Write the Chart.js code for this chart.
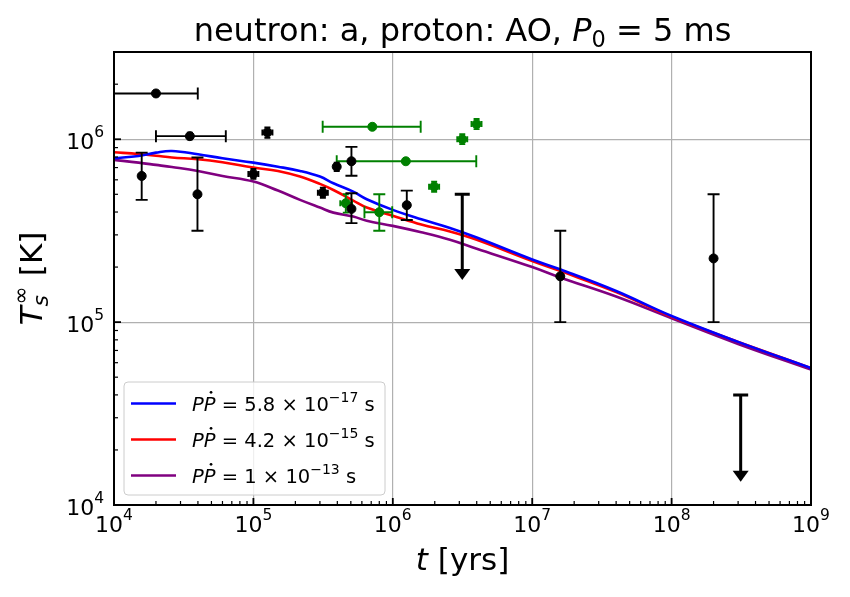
<!DOCTYPE html>
<html>
<head>
<meta charset="utf-8">
<script src="https://cdn.jsdelivr.net/npm/chart.js@4.4.1/dist/chart.umd.min.js"></script>
<style>
    html, body { margin: 0; padding: 0; background: #fff; }
    #wrap { width: 850px; height: 597px; }
</style>
</head>
<body>
<div id="wrap"><canvas id="c" width="850" height="597"></canvas></div>
<script>
// cooling curves, t [yrs] vs T_s [K]
var ageGrid = [1e4, 1.5e4, 2e4, 2.6e4, 4e4, 6e4, 1e5, 1.5e5, 2.16e5, 3e5, 3.75e5, 5.2e5, 6.5e5, 1e6, 1.6e6, 2.57e6, 4e6, 1e7, 1.6e7, 4e7, 1e8, 3e8, 1e9];
var tempBlue = [7.87e5, 8.1e5, 8.45e5, 8.63e5, 8.28e5, 7.87e5, 7.45e5, 7.08e5, 6.71e5, 6.25e5, 5.75e5, 5.17e5, 4.7e5, 4.11e5, 3.65e5, 3.27e5, 2.9e5, 2.2e5, 1.94e5, 1.48e5, 1.08e5, 7.8e4, 5.6e4];
var tempRed = [8.49e5, 8.3e5, 8.13e5, 7.95e5, 7.77e5, 7.48e5, 7.0e5, 6.71e5, 6.25e5, 5.7e5, 5.28e5, 4.62e5, 4.23e5, 3.82e5, 3.42e5, 3.13e5, 2.82e5, 2.16e5, 1.9e5, 1.46e5, 1.07e5, 7.8e4, 5.6e4];
var tempPurple = [7.71e5, 7.45e5, 7.24e5, 7.05e5, 6.71e5, 6.3e5, 5.87e5, 5.24e5, 4.66e5, 4.23e5, 3.97e5, 3.78e5, 3.58e5, 3.36e5, 3.1e5, 2.82e5, 2.52e5, 2.0e5, 1.75e5, 1.38e5, 1.05e5, 7.6e4, 5.5e4];
var curveLabels = ['5.8', '4.2', '1'];
var curveExps = ['\u221217', '\u221215', '\u221213'];

// black observations (null = no error bar)
var obsAge = [2.0e4, 3.5e4, 1.26e5, 1.58e4, 3.97e4, 1.0e5, 3.15e5, 3.96e5, 5.05e5, 5.05e5, 1.26e6, 1.59e7, 2.0e8];
var obsTemp = [1.78e6, 1.04e6, 1.09e6, 6.3e5, 5.0e5, 6.46e5, 5.1e5, 7.08e5, 7.58e5, 4.16e5, 4.36e5, 1.78e5, 2.23e5];
var obsAgeLo = [1e3, 2.0e4, 1.16e5, null, null, 0.92e5, 2.9e5, null, null, null, null, null, null];
var obsAgeHi = [3.99e4, 6.34e4, 1.37e5, null, null, 1.086e5, 3.42e5, null, null, null, null, null, null];
var obsTempLo = [1.78e6, 1.0e6, 1.02e6, 4.66e5, 3.16e5, 6.07e5, 4.79e5, 6.7e5, 6.32e5, 3.48e5, 3.62e5, 1.0e5, 1.0e5];
var obsTempHi = [1.78e6, 1.087e6, 1.16e6, 8.45e5, 7.94e5, 6.88e5, 5.43e5, 7.45e5, 9.08e5, 5.07e5, 5.24e5, 3.16e5, 5.0e5];

// green observations
var grAge = [7.13e5, 1.24e6, 4.6e5, 8.0e5, 1.98e6, 3.15e6, 3.99e6];
var grTemp = [1.17e6, 7.58e5, 4.47e5, 3.99e5, 5.5e5, 1.0e6, 1.21e6];
var grAgeLo = [3.14e5, 3.96e5, 4.2e5, 6.26e5, 1.82e6, 2.9e6, 3.67e6];
var grAgeHi = [1.585e6, 3.97e6, 5.1e5, 9.9e5, 2.15e6, 3.42e6, 4.33e6];
var grTempLo = [1.17e6, 7.58e5, 3.97e5, 3.16e5, 5.16e5, 0.94e6, 1.136e6];
var grTempHi = [1.17e6, 7.58e5, 5.0e5, 5.0e5, 5.86e5, 1.065e6, 1.29e6];

// upper limits
var limAge = [3.15e6, 3.13e8];
var limTop = [5.0e5, 4.0e4];
var limTip = [1.7e5, 1.34e4];

var xDecades = [4, 5, 6, 7, 8, 9];
var yDecades = [4, 5, 6];

var FONT = '"DejaVu Sans"';

function logTicks(min, max) {
    var out = [];
    for (var e = Math.floor(Math.log10(min)); e <= Math.ceil(Math.log10(max)); e++) {
        for (var m = 1; m <= 9; m++) {
            var v = m * Math.pow(10, e);
            if (v >= min * 0.999 && v <= max * 1.001) out.push({ value: v, major: m === 1 });
        }
    }
    return out;
}

function pts(xs, ys) {
    return xs.map(function (x, i) { return { x: x, y: ys[i] }; });
}

function gridColor(c) {
    return c.tick && c.tick.major ? '#b0b0b0' : 'rgba(0,0,0,0)';
}

// mixed-style text: runs of {t, it, size, dy, back}
// a "back" run is stacked over the previous one (sub + superscript)
function drawRuns(ctx, runs, x, y, align, base) {
    var w = 0;
    runs.forEach(function (r, i) {
        ctx.font = (r.it ? 'italic ' : '') + (r.size || base) + 'px ' + FONT;
        r.w = ctx.measureText(r.t).width + (r.dx || 0);
        r.adv = r.w;
        if (r.back) {
            var p = runs[i - 1];
            r.adv = Math.max(0, r.w - p.w);
        }
        w += r.adv;
    });
    var cx = align === 'center' ? x - w / 2 : (align === 'right' ? x - w : x);
    var prevStart = cx;
    ctx.textAlign = 'left';
    ctx.textBaseline = 'alphabetic';
    runs.forEach(function (r) {
        ctx.font = (r.it ? 'italic ' : '') + (r.size || base) + 'px ' + FONT;
        var sx = r.back ? prevStart : cx;
        ctx.fillText(r.t, sx + (r.dx || 0), y + (r.dy || 0));
        if (r.dot) {
            ctx.beginPath();
            ctx.arc(sx + r.w * 0.62, y - base * 0.93, base * 0.07, 0, Math.PI * 2);
            ctx.fill();
        }
        if (!r.back) prevStart = cx;
        cx += r.adv;
    });
    return w;
}

var errorBars = {
    id: 'errorBars',
    beforeDatasetDraw: function (chart, args) {
        var ds = chart.data.datasets[args.index];
        if (!ds.err) return;
        var ctx = chart.ctx, xs = chart.scales.x, ys = chart.scales.y, a = chart.chartArea;
        var e = ds.err;
        ctx.save();
        ctx.beginPath();
        ctx.rect(a.left, a.top, a.right - a.left, a.bottom - a.top);
        ctx.clip();
        ctx.strokeStyle = ds.backgroundColor;
        ctx.lineWidth = 1.9;
        ds.data.forEach(function (p, i) {
            var px = xs.getPixelForValue(p.x), py = ys.getPixelForValue(p.y);
            ctx.beginPath();
            if (e.xLo && e.xLo[i] != null) {
                var x0 = xs.getPixelForValue(e.xLo[i]), x1 = xs.getPixelForValue(e.xHi[i]);
                var cx = Math.abs(x1 - x0) < 20 ? 3 : 6;
                ctx.moveTo(x0, py); ctx.lineTo(x1, py);
                ctx.moveTo(x0, py - cx); ctx.lineTo(x0, py + cx);
                ctx.moveTo(x1, py - cx); ctx.lineTo(x1, py + cx);
            }
            if (e.yLo && e.yLo[i] != null) {
                var y0 = ys.getPixelForValue(e.yLo[i]), y1 = ys.getPixelForValue(e.yHi[i]);
                var cy = (Math.abs(y1 - y0) < 20 && Math.abs(y1 - y0) > 0) ? 3 : 6;
                ctx.moveTo(px, y0); ctx.lineTo(px, y1);
                ctx.moveTo(px - cy, y0); ctx.lineTo(px + cy, y0);
                ctx.moveTo(px - cy, y1); ctx.lineTo(px + cy, y1);
            }
            ctx.stroke();
        });
        ctx.restore();
    }
};

var upperLimits = {
    id: 'upperLimits',
    afterDatasetsDraw: function (chart) {
        var ctx = chart.ctx, xs = chart.scales.x, ys = chart.scales.y;
        ctx.save();
        ctx.strokeStyle = '#000';
        ctx.fillStyle = '#000';
        ctx.lineWidth = 3;
        for (var i = 0; i < limAge.length; i++) {
            var px = xs.getPixelForValue(limAge[i]);
            var top = ys.getPixelForValue(limTop[i]);
            var tip = ys.getPixelForValue(limTip[i]);
            ctx.beginPath();
            ctx.moveTo(px - 7.5, top); ctx.lineTo(px + 7.5, top);
            ctx.moveTo(px, top); ctx.lineTo(px, tip - 10);
            ctx.stroke();
            ctx.beginPath();
            ctx.moveTo(px - 8, tip - 11);
            ctx.lineTo(px + 8, tip - 11);
            ctx.lineTo(px, tip);
            ctx.closePath();
            ctx.fill();
        }
        ctx.restore();
    }
};

var decor = {
    id: 'decor',
    afterDraw: function (chart) {
        var ctx = chart.ctx, a = chart.chartArea, xs = chart.scales.x, ys = chart.scales.y;
        ctx.save();
        ctx.strokeStyle = '#000';
        ctx.fillStyle = '#000';

        // inward ticks
        xs.ticks.forEach(function (t) {
            var px = xs.getPixelForValue(t.value);
            if (px < a.left - 0.5 || px > a.right + 0.5) return;
            ctx.lineWidth = t.major ? 1.8 : 1.2;
            ctx.beginPath();
            ctx.moveTo(px, a.bottom);
            ctx.lineTo(px, a.bottom - (t.major ? 7 : 4));
            ctx.stroke();
        });
        ys.ticks.forEach(function (t) {
            var py = ys.getPixelForValue(t.value);
            if (py < a.top - 0.5 || py > a.bottom + 0.5) return;
            ctx.lineWidth = t.major ? 1.8 : 1.2;
            ctx.beginPath();
            ctx.moveTo(a.left, py);
            ctx.lineTo(a.left + (t.major ? 7 : 4), py);
            ctx.stroke();
        });

        // frame
        ctx.lineWidth = 2;
        ctx.strokeRect(a.left, a.top, a.right - a.left, a.bottom - a.top);

        // tick labels
        xDecades.forEach(function (d) {
            var px = xs.getPixelForValue(Math.pow(10, d));
            drawRuns(ctx, [{ t: '10' }, { t: String(d), size: 15.5, dy: -12 }], px, 532, 'center', 22);
        });
        yDecades.forEach(function (d) {
            var py = ys.getPixelForValue(Math.pow(10, d));
            drawRuns(ctx, [{ t: '10' }, { t: String(d), size: 15.5, dy: -12 }], 104, py + 10, 'right', 22);
        });

        // title
        drawRuns(ctx, [
            { t: 'neutron: a, proton: AO, ' },
            { t: 'P', it: true },
            { t: '0', size: 22.5, dy: 6 },
            { t: ' = 5 ms' }
        ], (a.left + a.right) / 2, 41, 'center', 32);

        // x label
        drawRuns(ctx, [{ t: 't', it: true }, { t: ' [yrs]' }], (a.left + a.right) / 2, 570, 'center', 31);

        // y label
        ctx.save();
        ctx.translate(42, (a.top + a.bottom) / 2);
        ctx.rotate(-Math.PI / 2);
        drawRuns(ctx, [
            { t: 'T', it: true },
            { t: 's', it: true, size: 22, dy: 6 },
            { t: '\u221e', size: 22, dy: -14, back: true, dx: 2 },
            { t: ' [K]' }
        ], 0, 0, 'center', 31);
        ctx.restore();

        // legend
        var lx = 124, ly = 382, lw = 261, lh = 113;
        ctx.beginPath();
        ctx.roundRect(lx, ly, lw, lh, 4);
        ctx.fillStyle = 'rgba(255,255,255,0.8)';
        ctx.fill();
        ctx.strokeStyle = '#cccccc';
        ctx.lineWidth = 1;
        ctx.stroke();
        var cols = ['blue', 'red', 'purple'];
        for (var i = 0; i < 3; i++) {
            var ry = 403.5 + i * 36;
            ctx.strokeStyle = cols[i];
            ctx.lineWidth = 2.6;
            ctx.beginPath();
            ctx.moveTo(131, ry);
            ctx.lineTo(176, ry);
            ctx.stroke();
            ctx.fillStyle = '#000';
            drawRuns(ctx, [
                { t: 'P', it: true },
                { t: 'P', it: true, dot: true },
                { t: ' = ' + curveLabels[i] + ' \u00d7 10' },
                { t: curveExps[i], size: 14, dy: -9 },
                { t: ' s' }
            ], 192, ry + 7, 'left', 19.5);
        }
        ctx.restore();
    }
};

var ctx = document.getElementById('c');
var chart = new Chart(ctx, {
    type: 'scatter',
    data: {
        datasets: [
            {
                label: 'obs',
                data: pts(obsAge, obsTemp),
                backgroundColor: '#000',
                borderColor: '#000',
                pointRadius: 4.5,
                pointHoverRadius: 4.5,
                order: 0,
                err: { xLo: obsAgeLo, xHi: obsAgeHi, yLo: obsTempLo, yHi: obsTempHi }
            },
            {
                label: 'obs2',
                data: pts(grAge, grTemp),
                backgroundColor: 'green',
                borderColor: 'green',
                pointRadius: 4.5,
                pointHoverRadius: 4.5,
                order: 0,
                err: { xLo: grAgeLo, xHi: grAgeHi, yLo: grTempLo, yHi: grTempHi }
            },
            {
                type: 'line',
                label: 'blue',
                data: pts(ageGrid, tempBlue),
                borderColor: 'blue',
                borderWidth: 2.6,
                pointRadius: 0,
                tension: 0.4,
                order: 1
            },
            {
                type: 'line',
                label: 'red',
                data: pts(ageGrid, tempRed),
                borderColor: 'red',
                borderWidth: 2.6,
                pointRadius: 0,
                tension: 0.4,
                order: 2
            },
            {
                type: 'line',
                label: 'purple',
                data: pts(ageGrid, tempPurple),
                borderColor: 'purple',
                borderWidth: 2.6,
                pointRadius: 0,
                tension: 0.4,
                order: 3
            }
        ]
    },
    options: {
        responsive: false,
        animation: false,
        devicePixelRatio: 1,
        layout: { padding: { top: 52, right: 39, left: 0, bottom: 0 } },
        plugins: { legend: { display: false }, tooltip: { enabled: false } },
        scales: {
            x: {
                type: 'logarithmic',
                min: 1e4,
                max: 1e9,
                afterBuildTicks: function (s) { s.ticks = logTicks(1e4, 1e9); },
                afterFit: function (s) { s.height = 92; },
                ticks: { display: false, autoSkip: false },
                grid: { drawTicks: false, color: gridColor, lineWidth: 1.2 },
                border: { display: false }
            },
            y: {
                type: 'logarithmic',
                min: 1e4,
                max: 3e6,
                afterBuildTicks: function (s) { s.ticks = logTicks(1e4, 3e6); },
                afterFit: function (s) { s.width = 114; },
                ticks: { display: false, autoSkip: false },
                grid: { drawTicks: false, color: gridColor, lineWidth: 1.2 },
                border: { display: false }
            }
        }
    },
    plugins: [errorBars, upperLimits, decor]
});
</script>
</body>
</html>
